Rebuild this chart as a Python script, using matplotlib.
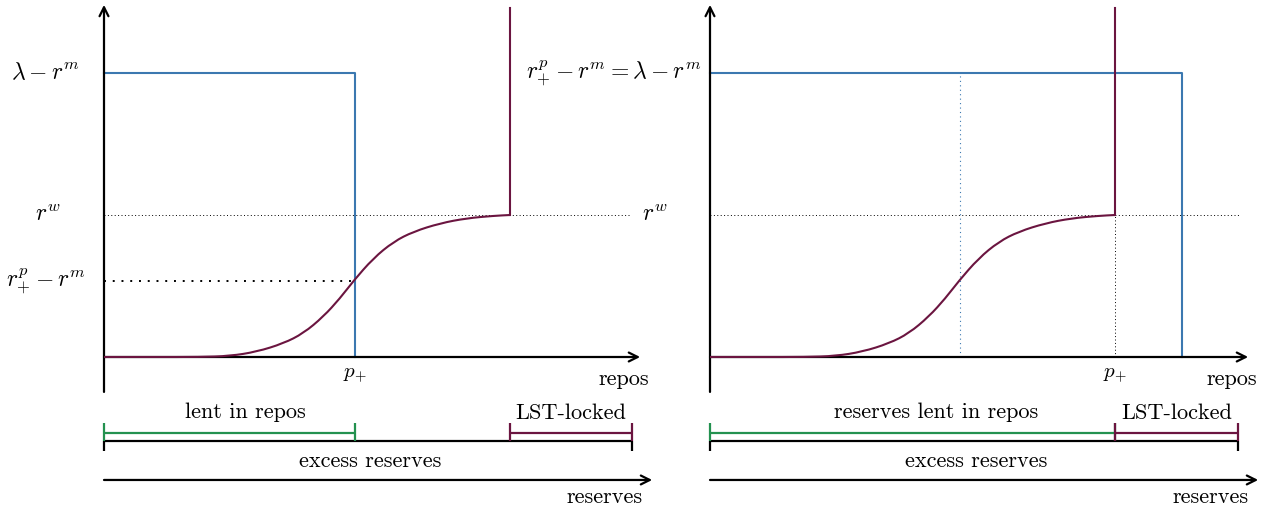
import numpy as np
import matplotlib
matplotlib.use("Agg")
import matplotlib.pyplot as plt
from matplotlib.path import Path
from matplotlib.patches import PathPatch

plt.rcParams['mathtext.fontset'] = 'cm'
plt.rcParams['font.family'] = ['cmr10', 'DejaVu Serif']
plt.rcParams['axes.unicode_minus'] = False

# ---- data (diagram units) ----
# rate levels (y)
lam_minus_rm = 2.0     # lambda - r^m
r_w = 1.0              # r^w
rp_minus_rm = 0.535    # r^p_+ - r^m (left panel)
y_top = 2.46

# left panel (x, reserves units)
left_p_plus = 5.0
left_lst_start = 8.09
left_total = 10.52

# right panel
right_p_plus = 8.07
right_lst_start = 8.07
right_blue_drop = 9.40
right_mid = 4.98
right_total = 10.52

# normalized shape of the curve
curve_t = [0.0, 0.12, 0.236, 0.310, 0.376, 0.442, 0.491, 0.540, 0.581, 0.614,
           0.663, 0.713, 0.762, 0.828, 0.893, 0.959, 1.0]
curve_f = [0.0, 0.0, 0.0, 0.007, 0.037, 0.096, 0.167, 0.284, 0.413, 0.535,
           0.695, 0.812, 0.883, 0.942, 0.977, 0.994, 1.0]

BLUE = '#3b78b0'
PURPLE = '#6b1540'
GREEN = '#23914f'
BLACK = 'black'
FS = 16
MFS = 17

SX, SY = 50.2, 142.0   # px per unit
W, H = 1264, 509

fig = plt.figure(figsize=(W / 100, H / 100), dpi=100)


def make_ax(origin_px):
    ox, oy = origin_px
    ax = fig.add_axes([0, 0, 1, 1])
    ax.set_xlim(-ox / SX, (W - ox) / SX)
    ax.set_ylim(-(H - oy) / SY, oy / SY)
    ax.axis('off')
    ax.patch.set_alpha(0)
    return ax


def arrow(ax, x0, y0, x1, y1, lw=1.6):
    ax.annotate('', xy=(x1, y1), xytext=(x0, y0),
                arrowprops=dict(arrowstyle='->', lw=lw, color=BLACK,
                                mutation_scale=16, shrinkA=0, shrinkB=0))


def bracket(ax, x0, x1, y, color, tick_lo, tick_hi, lw=1.6):
    ax.plot([x0, x1], [y, y], color=color, lw=lw, solid_capstyle='butt')
    for xx in (x0, x1):
        ax.plot([xx, xx], [tick_lo, tick_hi], color=color, lw=lw, solid_capstyle='butt')


def smooth_curve(ax, xs, ys, **kw):
    # quadratic B-spline path through the read points (rendered by matplotlib Path)
    pts = list(zip(xs, ys))
    verts = [pts[0]]
    codes = [Path.MOVETO]
    for i in range(1, len(pts) - 1):
        mid = ((pts[i][0] + pts[i + 1][0]) / 2, (pts[i][1] + pts[i + 1][1]) / 2)
        verts += [pts[i], mid]
        codes += [Path.CURVE3, Path.CURVE3]
    verts.append(pts[-1])
    codes.append(Path.LINETO)
    ax.add_patch(PathPatch(Path(verts, codes), fill=False, **kw))


y_brk = -0.535
y_exc = -0.595
tick_top = -0.465
tick_bot = -0.66
y_res = -0.866
y_axis_bottom = -0.246
res_axis_end = 10.92


def common(ax, total, p_plus, lst_start, green_label, green_center, lst_center, axis_end):
    arrow(ax, 0, y_axis_bottom, 0, y_top + 0.02)
    arrow(ax, 0, 0, axis_end, 0)
    cx = np.array(curve_t) * lst_start
    cy = np.array(curve_f) * r_w
    smooth_curve(ax, cx, cy, edgecolor=PURPLE, lw=1.5, zorder=3)
    ax.plot([lst_start, lst_start], [r_w, y_top], color=PURPLE, lw=1.5, zorder=3)
    bracket(ax, 0, total, y_exc, BLACK, y_exc, tick_bot)
    bracket(ax, 0, p_plus, y_brk, GREEN, tick_top, y_exc)
    bracket(ax, lst_start, total, y_brk, PURPLE, tick_top, y_exc)
    arrow(ax, 0, y_res, res_axis_end, y_res)
    ax.text(green_center, -0.39, green_label, ha='center', va='center', fontsize=FS)
    ax.text(lst_center, -0.395, 'LST-locked', ha='center', va='center', fontsize=FS)
    ax.text(total / 2 + 0.05, -0.735, 'excess reserves', ha='center', va='center', fontsize=FS)
    ax.text(res_axis_end - 0.95, -0.985, 'reserves', ha='center', va='center', fontsize=FS)
    ax.text(axis_end - 0.33, -0.16, 'repos', ha='center', va='center', fontsize=FS)
    ax.text(p_plus, -0.13, r'$p_{+}$', ha='center', va='center', fontsize=MFS - 2)


# ---- left panel ----
axL = make_ax((104, 357))
axL.plot([0, left_p_plus, left_p_plus], [lam_minus_rm, lam_minus_rm, 0], color=BLUE, lw=1.5, zorder=2)
axL.plot([0, 10.5], [r_w, r_w], color=BLACK, lw=0.7, ls=(0, (1, 2.5)))
axL.plot([0, left_p_plus], [rp_minus_rm, rp_minus_rm], color=BLACK, lw=1.4, ls=(0, (1, 3.5)))
common(axL, left_total, left_p_plus, left_lst_start, 'lent in repos', 2.82, 9.3, 10.68)
axL.text(-1.16, lam_minus_rm, r'$\lambda - r^m$', ha='center', va='center', fontsize=MFS)
axL.text(-1.12, r_w, r'$r^w$', ha='center', va='center', fontsize=MFS)
axL.text(-1.16, rp_minus_rm, r'$r^p_{+} - r^m$', ha='center', va='center', fontsize=MFS)
axL.text(10.98, r_w, r'$r^w$', ha='center', va='center', fontsize=MFS)

# ---- right panel ----
axR = make_ax((710, 357))
axR.plot([0, right_blue_drop, right_blue_drop], [lam_minus_rm, lam_minus_rm, 0], color=BLUE, lw=1.5, zorder=2)
axR.plot([0, 10.55], [r_w, r_w], color=BLACK, lw=0.7, ls=(0, (1, 2.5)))
axR.plot([right_mid, right_mid], [0, lam_minus_rm], color=BLUE, lw=0.8, ls=(0, (1, 3)))
axR.plot([right_p_plus, right_p_plus], [0, r_w], color=BLACK, lw=0.7, ls=(0, (1, 2.5)))
common(axR, right_total, right_p_plus, right_lst_start, 'reserves lent in repos', 4.5, 9.3, 10.72)
axR.text(-1.91, lam_minus_rm, r'$r^p_{+} - r^m = \lambda - r^m$', ha='center', va='center', fontsize=MFS)

fig.savefig('out.png', dpi=100)
